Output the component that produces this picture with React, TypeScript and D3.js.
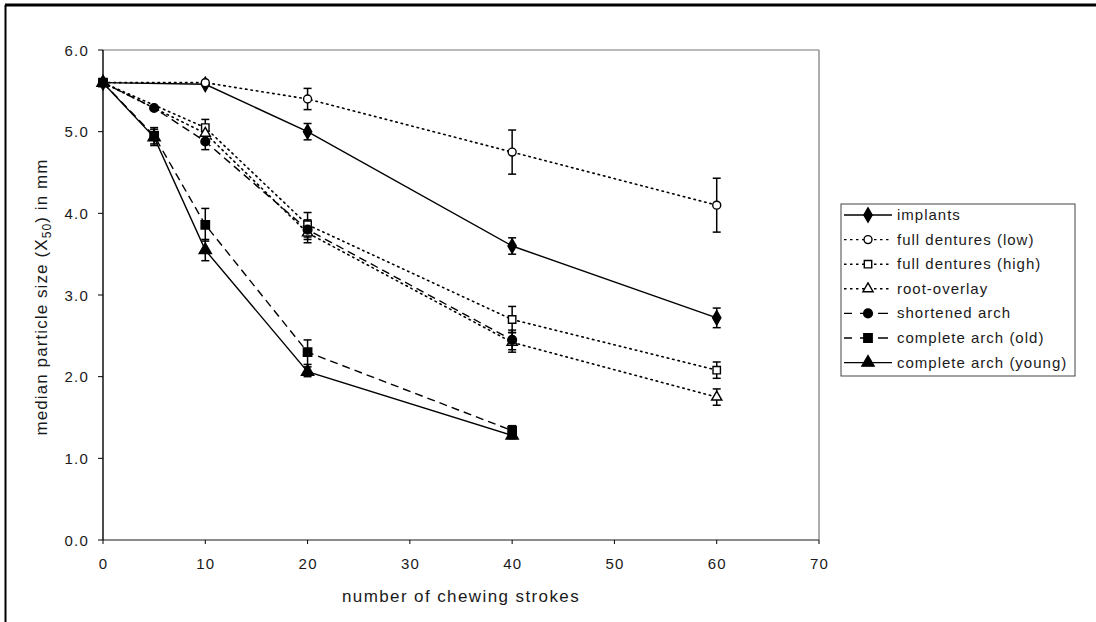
import React from "react";
import * as d3 from "d3";

type Pt = { x: number; y: number; e: number };

const implantsX = [0, 10, 20, 40, 60];
const implantsY = [5.6, 5.58, 5.0, 3.6, 2.72];
const implantsE = [0, 0.03, 0.1, 0.1, 0.12];

const fdLowX = [0, 10, 20, 40, 60];
const fdLowY = [5.6, 5.6, 5.4, 4.75, 4.1];
const fdLowE = [0, 0.03, 0.13, 0.27, 0.33];

const fdHighX = [0, 10, 20, 40, 60];
const fdHighY = [5.6, 5.05, 3.86, 2.7, 2.08];
const fdHighE = [0, 0.1, 0.15, 0.16, 0.1];

const rootX = [0, 10, 20, 40, 60];
const rootY = [5.6, 4.98, 3.76, 2.42, 1.75];
const rootE = [0, 0.1, 0.12, 0.12, 0.1];

const shortX = [0, 5, 10, 20, 40];
const shortY = [5.6, 5.29, 4.88, 3.8, 2.45];
const shortE = [0, 0.03, 0.1, 0.12, 0.12];

const oldX = [0, 5, 10, 20, 40];
const oldY = [5.6, 4.95, 3.86, 2.3, 1.34];
const oldE = [0, 0.1, 0.2, 0.15, 0.06];

const youngX = [0, 5, 10, 20, 40];
const youngY = [5.6, 4.93, 3.55, 2.06, 1.28];
const youngE = [0, 0.1, 0.13, 0.06, 0.04];

const xTicks = [0, 10, 20, 30, 40, 50, 60, 70];
const yTicks = [0, 1, 2, 3, 4, 5, 6];

const seriesNames = [
  "implants",
  "full dentures (low)",
  "full dentures (high)",
  "root-overlay",
  "shortened arch",
  "complete arch (old)",
  "complete arch (young)",
];

const zip = (xs: number[], ys: number[], es: number[]): Pt[] =>
  xs.map((x, i) => ({ x, y: ys[i], e: es[i] }));

type Marker = "diamond" | "circleOpen" | "squareOpen" | "triangleOpen" | "circle" | "square" | "triangle";

const DOT = "1.5,4";
const DASH = "8,5";

const series: { name: string; pts: Pt[]; dash: string; marker: Marker; legDash: string }[] = [
  { name: seriesNames[0], pts: zip(implantsX, implantsY, implantsE), dash: "", marker: "diamond", legDash: "" },
  { name: seriesNames[1], pts: zip(fdLowX, fdLowY, fdLowE), dash: DOT, marker: "circleOpen", legDash: "2.5,3.5" },
  { name: seriesNames[2], pts: zip(fdHighX, fdHighY, fdHighE), dash: DOT, marker: "squareOpen", legDash: "2.5,3.5" },
  { name: seriesNames[3], pts: zip(rootX, rootY, rootE), dash: DOT, marker: "triangleOpen", legDash: "2.5,3.5" },
  { name: seriesNames[4], pts: zip(shortX, shortY, shortE), dash: DASH, marker: "circle", legDash: "10,8" },
  { name: seriesNames[5], pts: zip(oldX, oldY, oldE), dash: DASH, marker: "square", legDash: "10,8" },
  { name: seriesNames[6], pts: zip(youngX, youngY, youngE), dash: "", marker: "triangle", legDash: "" },
];

const W = 1096;
const H = 622;
const x = d3.scaleLinear().domain([0, 70]).range([103, 819]);
const y = d3.scaleLinear().domain([0, 6]).range([540, 50]);

function MarkerShape({ type, cx, cy }: { type: Marker; cx: number; cy: number }) {
  const sym = (t: d3.SymbolType, size: number, fill: string) => (
    <path
      d={d3.symbol().type(t).size(size)() as string}
      transform={`translate(${cx},${cy})`}
      fill={fill}
      stroke="#000"
      strokeWidth={1.4}
    />
  );
  switch (type) {
    case "diamond":
      return sym(d3.symbolDiamond, 60, "#000");
    case "circleOpen":
      return sym(d3.symbolCircle, 50, "#fff");
    case "squareOpen":
      return sym(d3.symbolSquare, 55, "#fff");
    case "triangleOpen":
      return sym(d3.symbolTriangle, 45, "#fff");
    case "circle":
      return sym(d3.symbolCircle, 60, "#000");
    case "square":
      return sym(d3.symbolSquare, 70, "#000");
    case "triangle":
      return sym(d3.symbolTriangle, 65, "#000");
  }
}

export default function App() {
  const line = d3
    .line<Pt>()
    .x((d) => x(d.x))
    .y((d) => y(d.y));
  const font = "'Liberation Sans', Arial, sans-serif";
  const legX = 842;
  const legY0 = 215;
  const legStep = 24.6;
  const txt = "#1a1a1a";
  return (
    <svg
      width={W}
      height={H}
      style={{ position: "absolute", left: 0, top: 0, background: "#fff" }}
      fontFamily={font}
    >
      <rect x={0} y={0} width={W} height={H} fill="#fff" />
      {/* figure frame */}
      <line x1={5} y1={5} x2={W} y2={5} stroke="#000" strokeWidth={3} />
      <line x1={5.5} y1={5} x2={5.5} y2={H} stroke="#000" strokeWidth={2} />

      {/* plot frame */}
      <line x1={x(0)} y1={y(6)} x2={x(70)} y2={y(6)} stroke="#777" strokeWidth={1.2} />
      <line x1={x(70)} y1={y(6)} x2={x(70)} y2={y(0)} stroke="#777" strokeWidth={1.2} />
      <line x1={x(0)} y1={y(0)} x2={x(70)} y2={y(0)} stroke="#666" strokeWidth={1.3} />
      <line x1={x(0)} y1={y(6)} x2={x(0)} y2={y(0)} stroke="#000" strokeWidth={1.4} />

      {/* y ticks */}
      {yTicks.map((t) => (
        <g key={"y" + t}>
          <line x1={x(0) - 5} x2={x(0)} y1={y(t)} y2={y(t)} stroke="#000" strokeWidth={1} />
          <text x={89} y={y(t) + 5.5} textAnchor="end" fontSize={15} letterSpacing={1.2} fill={txt}>
            {t.toFixed(1)}
          </text>
        </g>
      ))}
      {/* x ticks */}
      {xTicks.map((t) => (
        <g key={"x" + t}>
          <line x1={x(t)} x2={x(t)} y1={y(0)} y2={y(0) + 4} stroke="#000" strokeWidth={1} />
          <text x={x(t) + 0.6} y={569} textAnchor="middle" fontSize={15} letterSpacing={1.2} fill={txt}>
            {t}
          </text>
        </g>
      ))}

      <text x={461} y={602} textAnchor="middle" fontSize={17} letterSpacing={1.4} fill={txt}>
        number of chewing strokes
      </text>
      <text
        transform="translate(47,297) rotate(-90)"
        textAnchor="middle"
        fontSize={17}
        letterSpacing={1.1}
        fill={txt}
      >
        median particle size (X
        <tspan fontSize={12} dy={4}>50</tspan>
        <tspan dy={-4}>) in mm</tspan>
      </text>

      {/* series lines */}
      {series.map((s) => (
        <path
          key={s.name + "l"}
          d={line(s.pts) as string}
          fill="none"
          stroke="#000"
          strokeWidth={s.dash === DOT ? 1.6 : 1.4}
          strokeDasharray={s.dash || undefined}
          strokeLinecap={s.dash === DOT ? "round" : "butt"}
        />
      ))}
      {/* error bars */}
      {series.map((s) =>
        s.pts
          .filter((p) => p.e > 0.035)
          .map((p, i) => (
            <g key={s.name + "e" + i} stroke="#000" strokeWidth={1.5}>
              <line x1={x(p.x)} x2={x(p.x)} y1={y(p.y + p.e)} y2={y(p.y - p.e)} />
              <line x1={x(p.x) - 4} x2={x(p.x) + 4} y1={y(p.y + p.e)} y2={y(p.y + p.e)} />
              <line x1={x(p.x) - 4} x2={x(p.x) + 4} y1={y(p.y - p.e)} y2={y(p.y - p.e)} />
            </g>
          ))
      )}
      {/* markers */}
      {series.map((s) =>
        s.pts.map((p, i) => (
          <MarkerShape key={s.name + "m" + i} type={s.marker} cx={x(p.x)} cy={y(p.y)} />
        ))
      )}

      {/* legend */}
      <rect x={841} y={204} width={234} height={172} fill="#fff" stroke="#444" strokeWidth={1} />
      {series.map((s, i) => {
        const ly = legY0 + i * legStep;
        return (
          <g key={s.name + "leg"}>
            <line
              x1={legX + 2}
              x2={legX + 50}
              y1={ly}
              y2={ly}
              stroke="#000"
              strokeWidth={1.4}
              strokeDasharray={s.legDash || undefined}
              strokeDashoffset={s.legDash === "10,8" ? 2 : 0}
            />
            <MarkerShape type={s.marker} cx={legX + 26} cy={ly} />
            <text x={legX + 55} y={ly + 5} fontSize={15} letterSpacing={1.0} fill={txt}>
              {s.name}
            </text>
          </g>
        );
      })}
    </svg>
  );
}
